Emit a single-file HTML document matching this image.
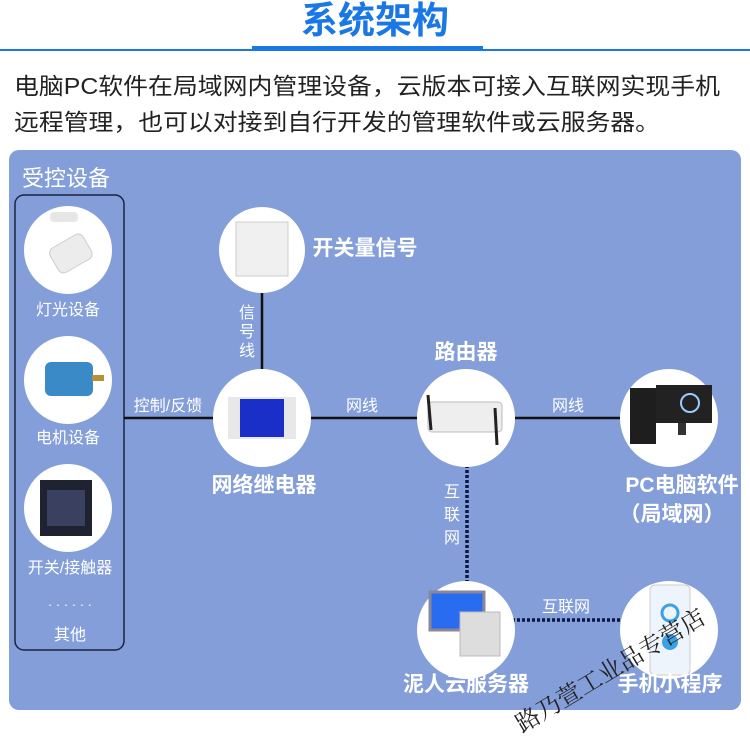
<!DOCTYPE html>
<html><head><meta charset="utf-8"><style>
body{margin:0;width:750px;height:749px;background:#fff;overflow:hidden;font-family:"Liberation Sans","Noto Sans CJK SC",sans-serif}
svg{display:block}
</style></head><body>
<svg width="750" height="749" xmlns="http://www.w3.org/2000/svg" font-family="'Liberation Sans','Noto Sans CJK SC',sans-serif">
<text x="375" y="33" text-anchor="middle" font-size="37" font-weight="bold" fill="#1a78e6">系统架构</text>
<rect x="0" y="49" width="750" height="2" fill="#1a78e6"/>
<rect x="252" y="46" width="231" height="5" fill="#1a78e6"/>
<text x="14" y="94" font-size="23" fill="#222" textLength="706" lengthAdjust="spacingAndGlyphs">电脑PC软件在局域网内管理设备，云版本可接入互联网实现手机</text>
<text x="14" y="130" font-size="23" fill="#222" textLength="646" lengthAdjust="spacingAndGlyphs">远程管理，也可以对接到自行开发的管理软件或云服务器。</text>
<rect x="9" y="150" width="732" height="560" rx="10" fill="#849ed9"/>
<text x="22" y="186" font-size="22" fill="#fff">受控设备</text>
<rect x="15" y="195" width="109" height="455" rx="9" fill="none" stroke="#1b2440" stroke-width="1.5"/>
<g stroke="#111" stroke-width="2.5">
<line x1="124" y1="418" x2="215" y2="418"/>
<line x1="310" y1="418" x2="420" y2="418"/>
<line x1="512" y1="418" x2="622" y2="418"/>
<line x1="262" y1="292" x2="262" y2="370"/>
</g>
<g stroke="#0a1540" stroke-width="3.5" stroke-dasharray="3,2">
<line x1="467" y1="465" x2="467" y2="585"/>
<line x1="512" y1="620" x2="622" y2="620"/>
</g>
<g fill="#fff">
<circle cx="68" cy="250" r="44"/>
<circle cx="68" cy="380" r="44"/>
<circle cx="68" cy="508" r="44"/>
<circle cx="262" cy="250" r="43"/>
<circle cx="262" cy="418" r="49"/>
<circle cx="466" cy="418" r="49"/>
<circle cx="669" cy="418" r="49"/>
<circle cx="466" cy="630" r="49"/>
<circle cx="669" cy="630" r="49"/>
</g>
<rect x="50" y="212" width="28" height="10" rx="4" fill="#e6e6e6"/>
<rect x="52" y="240" width="38" height="28" rx="6" fill="#ececec" stroke="#ccc" transform="rotate(-30 70 254)"/>
<rect x="45" y="362" width="48" height="34" rx="6" fill="#3a8ac8"/>
<rect x="92" y="375" width="12" height="6" fill="#b8903a"/>
<rect x="40" y="480" width="52" height="56" fill="#1f2230"/>
<rect x="47" y="490" width="38" height="36" fill="#3a4060"/>
<rect x="236" y="222" width="52" height="54" fill="#f0f0f0" stroke="#ccc"/>
<rect x="228" y="397" width="68" height="42" fill="#e8e8e8"/>
<rect x="240" y="399" width="44" height="38" fill="#1a2ec8"/>
<rect x="428" y="402" width="74" height="30" rx="4" fill="#eee" stroke="#bbb"/>
<line x1="428" y1="395" x2="431" y2="430" stroke="#222" stroke-width="3"/>
<line x1="495" y1="408" x2="497" y2="445" stroke="#222" stroke-width="3"/>
<rect x="630" y="388" width="26" height="56" fill="#1e1e1e"/>
<rect x="656" y="385" width="56" height="38" fill="#222"/>
<circle cx="690" cy="403" r="9" fill="none" stroke="#9cf" stroke-width="2"/>
<rect x="678" y="423" width="8" height="12" fill="#333"/>
<rect x="430" y="592" width="54" height="38" fill="#2a6cf0" stroke="#889" stroke-width="3"/>
<rect x="460" y="612" width="40" height="44" fill="#ddd" stroke="#bbb"/>
<rect x="650" y="585" width="40" height="90" rx="5" fill="#eef4fb" stroke="#ccc"/>
<circle cx="670" cy="613" r="8" fill="none" stroke="#3aa0e8" stroke-width="3"/>
<circle cx="670" cy="642" r="8" fill="#3aa0e8"/>
<g fill="#fff" font-size="16" text-anchor="middle">
<text x="68" y="315">灯光设备</text>
<text x="68" y="443">电机设备</text>
<text x="70" y="573">开关/接触器</text>
<text x="70" y="609" font-size="13">· · · · · ·</text>
<text x="70" y="640">其他</text>
<text x="168" y="411">控制/反馈</text>
<text x="362" y="411">网线</text>
<text x="568" y="411">网线</text>
<text x="566" y="612">互联网</text>
<text x="247" y="318">信</text><text x="247" y="337">号</text><text x="247" y="356">线</text>
<text x="452" y="497">互</text><text x="452" y="520">联</text><text x="452" y="543">网</text>
</g>
<g fill="#fff" font-size="21" font-weight="bold" text-anchor="middle">
<text x="365" y="255">开关量信号</text>
<text x="466" y="359">路由器</text>
<text x="264" y="492">网络继电器</text>
<text x="682" y="492">PC电脑软件</text>
<text x="672" y="521">（局域网）</text>
<text x="466" y="691">泥人云服务器</text>
<text x="670" y="691">手机小程序</text>
</g>
<text x="0" y="0" font-size="24" fill="#222" font-family="'Liberation Serif','Noto Serif CJK SC',serif" transform="translate(522,733) rotate(-31)">路乃萱工业品专营店</text>
</svg>
</body></html>
